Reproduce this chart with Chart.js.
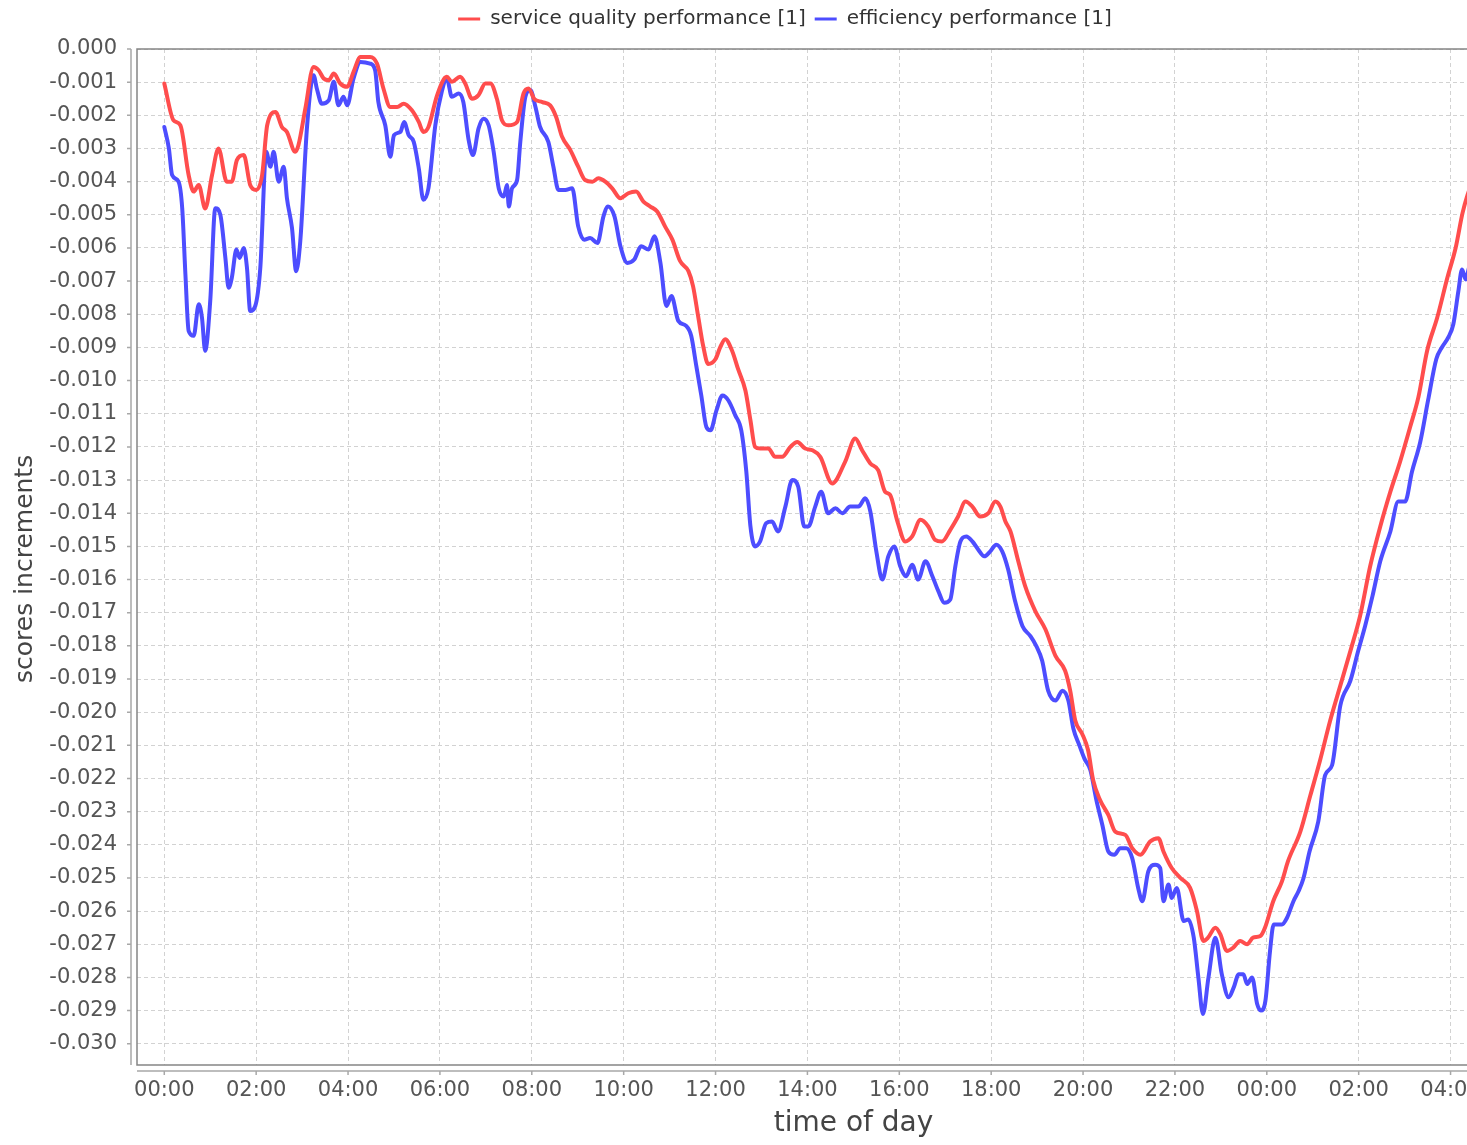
<!DOCTYPE html>
<html>
<head>
<meta charset="utf-8">
<title>scores increments</title>
<script src="https://cdn.jsdelivr.net/npm/chart.js@4.4.1/dist/chart.umd.min.js"></script>
<style>
html, body { margin: 0; padding: 0; background: #fff; overflow: hidden; }
#wrap { width: 1467px; height: 1145px; overflow: hidden; }
</style>
</head>
<body>
<div id="wrap"><canvas id="scoresChart" width="1573" height="1145"></canvas></div>
<script>
// hours since 00:00 of the first day
const serviceTimes = [
    0.00, 0.20, 0.35, 0.53, 0.64, 0.75, 0.89, 1.04, 1.18, 1.36,
    1.47, 1.58, 1.73, 1.87, 2.00, 2.13, 2.24, 2.42, 2.56, 2.67,
    2.85, 2.92, 3.07, 3.25, 3.36, 3.47, 3.58, 3.69, 3.83, 3.98,
    4.12, 4.27, 4.48, 4.63, 4.77, 4.92, 5.07, 5.21, 5.39, 5.54,
    5.64, 5.75, 5.94, 6.15, 6.26, 6.44, 6.55, 6.70, 6.84, 6.99,
    7.10, 7.24, 7.35, 7.49, 7.68, 7.82, 7.93, 8.05, 8.23, 8.40,
    8.53, 8.66, 8.84, 9.01, 9.16, 9.32, 9.45, 9.60, 9.75, 9.93,
    10.10, 10.27, 10.43, 10.58, 10.73, 10.90, 11.06, 11.23, 11.41, 11.51,
    11.62, 11.73, 11.84, 12.00, 12.10, 12.21, 12.36, 12.49, 12.65, 12.76,
    12.86, 12.97, 13.15, 13.30, 13.45, 13.63, 13.78, 13.95, 14.11, 14.28,
    14.54, 14.82, 15.04, 15.19, 15.37, 15.54, 15.69, 15.80, 15.96, 16.13,
    16.28, 16.46, 16.63, 16.78, 16.93, 17.11, 17.28, 17.44, 17.59, 17.76,
    17.94, 18.09, 18.20, 18.31, 18.42, 18.59, 18.74, 18.96, 19.18, 19.40,
    19.61, 19.72, 19.83, 19.98, 20.11, 20.22, 20.37, 20.55, 20.70, 20.92,
    21.07, 21.25, 21.46, 21.64, 21.75, 21.93, 22.12, 22.33, 22.48, 22.62,
    22.72, 22.88, 22.99, 23.13, 23.27, 23.42, 23.57, 23.70, 23.86, 23.96,
    24.14, 24.33, 24.46, 24.73, 24.95, 25.16, 25.38, 25.60, 25.82, 26.03,
    26.25, 26.47, 26.69, 26.90, 27.12, 27.30, 27.49, 27.71, 27.93, 28.11,
    28.26, 28.37, 28.50
];
const serviceQuality = [
    -0.00104, -0.00215, -0.00230, -0.00380, -0.00430, -0.00410, -0.00481, -0.00380, -0.00300, -0.00400,
    -0.00400, -0.00335, -0.00320, -0.00410, -0.00425, -0.00380, -0.00230, -0.00190, -0.00235, -0.00250,
    -0.00310, -0.00290, -0.00180, -0.00054, -0.00064, -0.00089, -0.00094, -0.00074, -0.00104, -0.00114,
    -0.00069, -0.00024, -0.00024, -0.00044, -0.00119, -0.00175, -0.00175, -0.00165, -0.00185, -0.00220,
    -0.00250, -0.00235, -0.00139, -0.00084, -0.00099, -0.00084, -0.00104, -0.00150, -0.00139, -0.00104,
    -0.00104, -0.00150, -0.00215, -0.00230, -0.00220, -0.00134, -0.00119, -0.00150, -0.00160, -0.00170,
    -0.00205, -0.00265, -0.00305, -0.00355, -0.00395, -0.00400, -0.00390, -0.00400, -0.00420, -0.00450,
    -0.00435, -0.00430, -0.00460, -0.00475, -0.00490, -0.00535, -0.00575, -0.00640, -0.00670, -0.00715,
    -0.00805, -0.00895, -0.00950, -0.00935, -0.00900, -0.00875, -0.00910, -0.00965, -0.01030, -0.01120,
    -0.01200, -0.01205, -0.01205, -0.01230, -0.01230, -0.01200, -0.01185, -0.01205, -0.01210, -0.01230,
    -0.01310, -0.01245, -0.01175, -0.01210, -0.01250, -0.01270, -0.01335, -0.01345, -0.01425, -0.01485,
    -0.01470, -0.01420, -0.01440, -0.01480, -0.01485, -0.01450, -0.01410, -0.01365, -0.01380, -0.01410,
    -0.01400, -0.01365, -0.01380, -0.01425, -0.01455, -0.01545, -0.01620, -0.01695, -0.01750, -0.01830,
    -0.01875, -0.01935, -0.02025, -0.02065, -0.02115, -0.02205, -0.02265, -0.02310, -0.02360, -0.02370,
    -0.02410, -0.02430, -0.02390, -0.02380, -0.02420, -0.02470, -0.02500, -0.02530, -0.02600, -0.02690,
    -0.02680, -0.02650, -0.02670, -0.02720, -0.02710, -0.02690, -0.02700, -0.02680, -0.02675, -0.02650,
    -0.02570, -0.02510, -0.02450, -0.02360, -0.02250, -0.02145, -0.02025, -0.01920, -0.01815, -0.01710,
    -0.01560, -0.01440, -0.01335, -0.01245, -0.01140, -0.01050, -0.00910, -0.00810, -0.00690, -0.00600,
    -0.00495, -0.00440, -0.00390
];

const efficiencyTimes = [
    0.00, 0.10, 0.17, 0.31, 0.39, 0.46, 0.53, 0.64, 0.75, 0.82,
    0.89, 1.00, 1.11, 1.22, 1.33, 1.40, 1.47, 1.57, 1.64, 1.73,
    1.80, 1.87, 1.98, 2.09, 2.22, 2.31, 2.38, 2.49, 2.60, 2.67,
    2.78, 2.87, 2.96, 3.11, 3.25, 3.32, 3.43, 3.58, 3.69, 3.79,
    3.90, 3.98, 4.12, 4.27, 4.48, 4.59, 4.66, 4.81, 4.92, 5.00,
    5.14, 5.22, 5.32, 5.43, 5.54, 5.64, 5.75, 5.90, 6.04, 6.15,
    6.26, 6.41, 6.51, 6.62, 6.72, 6.84, 6.95, 7.06, 7.17, 7.28,
    7.39, 7.46, 7.50, 7.57, 7.68, 7.75, 7.86, 7.97, 8.08, 8.18,
    8.36, 8.47, 8.58, 8.73, 8.88, 9.01, 9.14, 9.27, 9.43, 9.56,
    9.66, 9.80, 9.93, 10.08, 10.23, 10.38, 10.54, 10.67, 10.80, 10.93,
    11.04, 11.19, 11.36, 11.47, 11.58, 11.69, 11.80, 11.89, 12.02, 12.15,
    12.28, 12.43, 12.56, 12.67, 12.76, 12.86, 12.97, 13.10, 13.23, 13.36,
    13.52, 13.67, 13.80, 13.93, 14.02, 14.17, 14.30, 14.45, 14.61, 14.76,
    14.93, 15.11, 15.26, 15.37, 15.50, 15.63, 15.76, 15.89, 16.02, 16.15,
    16.28, 16.41, 16.57, 16.72, 16.85, 16.98, 17.11, 17.22, 17.33, 17.46,
    17.59, 17.72, 17.85, 17.98, 18.11, 18.24, 18.37, 18.52, 18.68, 18.85,
    18.98, 19.11, 19.24, 19.40, 19.55, 19.68, 19.79, 19.92, 20.03, 20.16,
    20.29, 20.42, 20.55, 20.68, 20.81, 20.94, 21.07, 21.20, 21.29, 21.42,
    21.57, 21.68, 21.75, 21.86, 21.93, 22.04, 22.19, 22.29, 22.41, 22.51,
    22.61, 22.73, 22.88, 23.02, 23.17, 23.28, 23.39, 23.49, 23.57, 23.68,
    23.79, 23.87, 23.97, 24.07, 24.15, 24.33, 24.44, 24.58, 24.69, 24.80,
    24.93, 25.12, 25.27, 25.42, 25.60, 25.82, 25.99, 26.14, 26.30, 26.47,
    26.69, 26.86, 27.01, 27.16, 27.34, 27.51, 27.69, 27.81, 27.95, 28.06,
    28.17, 28.25, 28.33, 28.40, 28.50
];
const efficiency = [
    -0.00235, -0.00300, -0.00380, -0.00400, -0.00480, -0.00680, -0.00850, -0.00865, -0.00770, -0.00810,
    -0.00910, -0.00760, -0.00480, -0.00500, -0.00630, -0.00720, -0.00690, -0.00605, -0.00630, -0.00600,
    -0.00660, -0.00790, -0.00775, -0.00660, -0.00310, -0.00355, -0.00310, -0.00400, -0.00355, -0.00450,
    -0.00540, -0.00670, -0.00580, -0.00230, -0.00079, -0.00119, -0.00165, -0.00155, -0.00099, -0.00170,
    -0.00144, -0.00170, -0.00089, -0.00039, -0.00044, -0.00064, -0.00160, -0.00230, -0.00325, -0.00260,
    -0.00250, -0.00220, -0.00260, -0.00280, -0.00360, -0.00455, -0.00420, -0.00230, -0.00129, -0.00089,
    -0.00144, -0.00134, -0.00160, -0.00270, -0.00320, -0.00240, -0.00210, -0.00230, -0.00310, -0.00420,
    -0.00445, -0.00410, -0.00475, -0.00420, -0.00395, -0.00280, -0.00144, -0.00124, -0.00175, -0.00235,
    -0.00280, -0.00355, -0.00425, -0.00425, -0.00420, -0.00535, -0.00575, -0.00570, -0.00585, -0.00505,
    -0.00475, -0.00505, -0.00595, -0.00645, -0.00635, -0.00595, -0.00605, -0.00565, -0.00645, -0.00775,
    -0.00745, -0.00820, -0.00835, -0.00865, -0.00955, -0.01045, -0.01140, -0.01150, -0.01090, -0.01045,
    -0.01060, -0.01105, -0.01150, -0.01275, -0.01440, -0.01500, -0.01485, -0.01430, -0.01425, -0.01455,
    -0.01380, -0.01300, -0.01320, -0.01440, -0.01440, -0.01380, -0.01335, -0.01400, -0.01385, -0.01400,
    -0.01380, -0.01380, -0.01355, -0.01395, -0.01515, -0.01600, -0.01530, -0.01500, -0.01560, -0.01590,
    -0.01555, -0.01600, -0.01545, -0.01590, -0.01635, -0.01670, -0.01660, -0.01560, -0.01485, -0.01470,
    -0.01485, -0.01510, -0.01530, -0.01515, -0.01495, -0.01515, -0.01570, -0.01665, -0.01740, -0.01770,
    -0.01800, -0.01845, -0.01935, -0.01965, -0.01935, -0.01965, -0.02050, -0.02100, -0.02140, -0.02175,
    -0.02265, -0.02340, -0.02420, -0.02430, -0.02410, -0.02410, -0.02440, -0.02530, -0.02570, -0.02480,
    -0.02460, -0.02470, -0.02570, -0.02520, -0.02560, -0.02530, -0.02630, -0.02625, -0.02680, -0.02800,
    -0.02910, -0.02800, -0.02680, -0.02790, -0.02860, -0.02830, -0.02790, -0.02790, -0.02820, -0.02800,
    -0.02880, -0.02900, -0.02870, -0.02720, -0.02640, -0.02640, -0.02620, -0.02570, -0.02540, -0.02500,
    -0.02420, -0.02330, -0.02190, -0.02160, -0.01980, -0.01905, -0.01815, -0.01740, -0.01650, -0.01545,
    -0.01455, -0.01365, -0.01365, -0.01275, -0.01185, -0.01060, -0.00935, -0.00900, -0.00870, -0.00830,
    -0.00730, -0.00665, -0.00695, -0.00660, -0.00620
];

const seriesLabels = ['service quality performance [1]', 'efficiency performance [1]'];
const seriesColors = ['#ff4d4d', '#4d4dff'];

const toPoints = (xs, ys) => xs.map((x, i) => ({ x: x, y: ys[i] }));

const hourLabel = (v) => {
    if (v > 28.6) return '';
    const h = ((Math.round(v) % 24) + 24) % 24;
    return String(h).padStart(2, '0') + ':00';
};

// plot outline + the offset axis lines with their tick marks
const axisFrame = {
    id: 'axisFrame',
    afterDraw(chart) {
        const { ctx, chartArea: a, scales: { x, y } } = chart;
        ctx.save();
        ctx.strokeStyle = '#858585';
        ctx.lineWidth = 1.5;
        ctx.strokeRect(a.left, a.top, a.right - a.left, a.bottom - a.top);

        const ax = a.left - 6;
        const ay = a.bottom + 6;
        ctx.strokeStyle = '#a8a8a8';
        ctx.lineWidth = 1.5;
        ctx.beginPath();
        ctx.moveTo(ax, a.top);
        ctx.lineTo(ax, a.bottom);
        ctx.moveTo(a.left, ay);
        ctx.lineTo(a.right, ay);
        y.ticks.forEach(t => {
            const py = y.getPixelForValue(t.value);
            ctx.moveTo(ax - 4, py);
            ctx.lineTo(ax, py);
        });
        x.ticks.forEach(t => {
            const px = x.getPixelForValue(t.value);
            ctx.moveTo(px, ay);
            ctx.lineTo(px, ay + 4);
        });
        ctx.stroke();
        ctx.restore();
    }
};

Chart.defaults.font.family = "'DejaVu Sans', sans-serif";

const ctx = document.getElementById('scoresChart').getContext('2d');

const lineStyle = {
    borderWidth: 4,
    pointRadius: 0,
    cubicInterpolationMode: 'monotone',
    borderJoinStyle: 'round',
    borderCapStyle: 'round'
};

const config = {
    type: 'line',
    data: {
        datasets: [
            Object.assign({
                label: seriesLabels[0],
                data: toPoints(serviceTimes, serviceQuality),
                borderColor: seriesColors[0],
                backgroundColor: seriesColors[0]
            }, lineStyle),
            Object.assign({
                label: seriesLabels[1],
                data: toPoints(efficiencyTimes, efficiency),
                borderColor: seriesColors[1],
                backgroundColor: seriesColors[1]
            }, lineStyle)
        ]
    },
    options: {
        responsive: false,
        animation: false,
        devicePixelRatio: 1,
        layout: { padding: { left: 0, right: 3, top: 0, bottom: 0 } },
        scales: {
            x: {
                type: 'linear',
                min: -0.594,
                max: 30.6,
                afterFit: (scale) => { scale.height = 80; },
                ticks: {
                    stepSize: 2,
                    includeBounds: false,
                    autoSkip: false,
                    maxRotation: 0,
                    padding: 13,
                    color: '#555',
                    font: { size: 21 },
                    callback: hourLabel
                },
                grid: { color: '#d2d2d2', lineWidth: 1, drawTicks: false },
                border: { display: false, dash: [4, 3] },
                title: {
                    display: true,
                    text: 'time of day',
                    color: '#444',
                    font: { size: 28 },
                    padding: { top: 0, bottom: 4 }
                }
            },
            y: {
                min: -0.03064,
                max: 0,
                afterFit: (scale) => { scale.width = 137; },
                ticks: {
                    stepSize: 0.001,
                    includeBounds: false,
                    autoSkip: false,
                    padding: 20,
                    color: '#555',
                    font: { size: 21 },
                    callback: (v) => v.toFixed(3)
                },
                grid: { color: '#d2d2d2', lineWidth: 1, drawTicks: false },
                border: { display: false, dash: [4, 3] },
                title: {
                    display: true,
                    text: 'scores increments   ',
                    color: '#444',
                    font: { size: 25 },
                    padding: { top: 10, bottom: 0 }
                }
            }
        },
        plugins: {
            legend: {
                position: 'top',
                labels: {
                    boxWidth: 22,
                    boxHeight: 3,
                    padding: 9,
                    color: '#333',
                    font: { size: 20 },
                    generateLabels: (chart) => Chart.defaults.plugins.legend.labels
                        .generateLabels(chart)
                        .map(item => Object.assign(item, { lineWidth: 0 }))
                }
            },
            // empty spacer between legend and plot
            title: {
                display: true,
                text: '',
                weight: 500,
                padding: 0,
                font: { size: 10, lineHeight: 1 }
            },
            tooltip: { enabled: false }
        }
    },
    plugins: [axisFrame]
};

const scoresChart = new Chart(ctx, config);
</script>
</body>
</html>
